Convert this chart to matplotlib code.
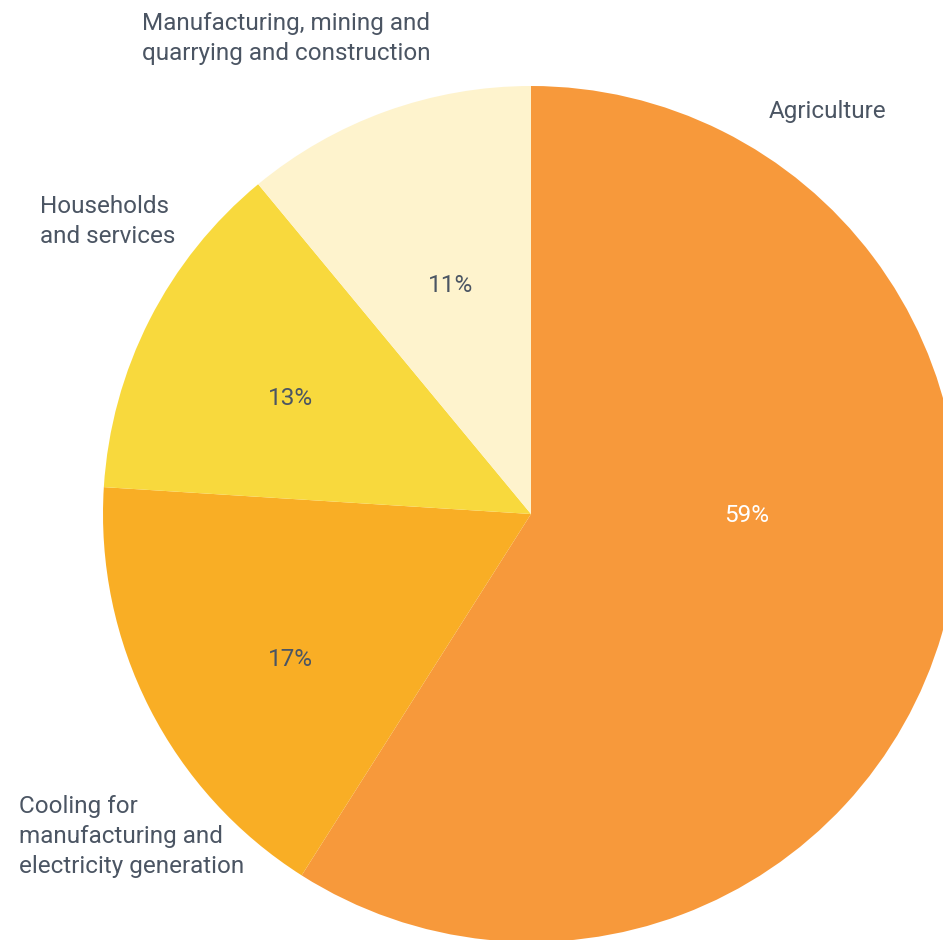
import matplotlib.pyplot as plt
import numpy as np

plt.rcParams['font.family'] = ['Roboto', 'DejaVu Sans']

sectors = ['Agriculture', 'Cooling for\nmanufacturing and\nelectricity generation',
           'Households\nand services', 'Manufacturing, mining and\nquarrying and construction']
shares = [59, 17, 13, 11]
colors = ['#F7993B', '#F9AE25', '#F8D93D', '#FEF3CD']
pct_colors = ['white', '#4B5563', '#4B5563', '#4B5563']

text_col = '#4B5563'

fig = plt.figure(figsize=(9.43, 9.40), dpi=100)
ax = fig.add_axes([0, 0, 1, 1])

cx, cy, r = 531, 940 - 514, 428
wedges, _ = ax.pie(shares, colors=colors, startangle=90, counterclock=False,
                   center=(cx, cy), radius=r, frame=True,
                   wedgeprops=dict(linewidth=0))
ax.set_xlim(0, 943)
ax.set_ylim(0, 940)
ax.set_aspect('equal')
ax.axis('off')

# percentage labels, offset from the centre as fractions of the radius
pct_pos = [(0.505, -0.003), (-0.563, -0.341), (-0.563, 0.271), (-0.187, 0.535)]
for val, (dx, dy), c in zip(shares, pct_pos, pct_colors):
    ax.text(cx + dx * r, cy + dy * r, f'{val}%', color=c, fontsize=17.5,
            ha='center', va='center')

# category labels (pixel positions of the left edge / top)
label_pos = [(769, 100), (19, 795), (40, 195), (142, 12)]
for name, (x, y) in zip(sectors, label_pos):
    ax.text(x, 940 - y, name, color=text_col, fontsize=17.5, ha='left', va='top',
            linespacing=1.38)

fig.savefig('out.png', dpi=100)
